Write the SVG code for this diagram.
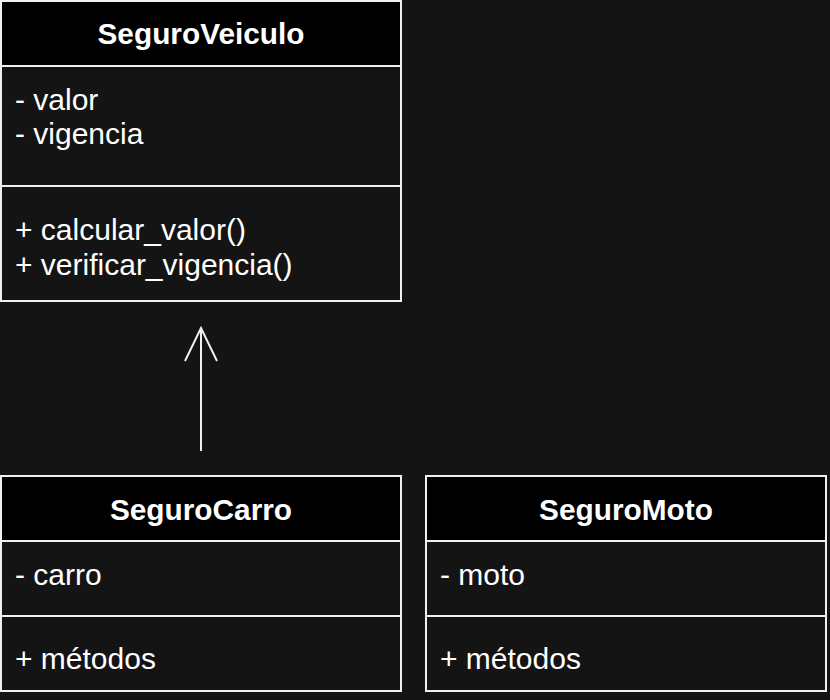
<svg xmlns="http://www.w3.org/2000/svg" width="830" height="700" viewBox="0 0 830 700">
<defs>
<style>
.box{fill:#141414;stroke:#f0f0f0;stroke-width:2}
.head{fill:#000;stroke:#f0f0f0;stroke-width:2}
.div{stroke:#f0f0f0;stroke-width:2}
.title{font-family:"Liberation Sans",Arial,sans-serif;font-size:29.8px;font-weight:bold;fill:#fff;text-anchor:middle}
.mem{font-family:"Liberation Sans",Arial,sans-serif;font-size:30px;fill:#fff}
.conn{stroke:#f0f0f0;stroke-width:2;fill:none}
</style>
</defs>
<rect width="830" height="700" fill="#141414"/>
<g id="SeguroVeiculo">
<rect class="box" x="1" y="1" width="400" height="300"/>
<rect class="head" x="1" y="1" width="400" height="65"/>
<text class="title" x="201" y="44">SeguroVeiculo</text>
<text class="mem" x="15" y="110">- valor</text>
<text class="mem" x="15" y="144">- vigencia</text>
<line class="div" x1="1" y1="186" x2="401" y2="186"/>
<text class="mem" x="15" y="240">+ calcular_valor()</text>
<text class="mem" x="15" y="275">+ verificar_vigencia()</text>
</g>
<g id="SeguroCarro">
<rect class="box" x="1" y="476" width="400" height="215"/>
<rect class="head" x="1" y="476" width="400" height="65"/>
<text class="title" x="201" y="520">SeguroCarro</text>
<text class="mem" x="15" y="585">- carro</text>
<line class="div" x1="1" y1="616" x2="401" y2="616"/>
<text class="mem" x="15" y="669">+ métodos</text>
</g>
<g id="SeguroMoto">
<rect class="box" x="426" y="476" width="400" height="215"/>
<rect class="head" x="426" y="476" width="400" height="65"/>
<text class="title" x="626" y="520">SeguroMoto</text>
<text class="mem" x="440" y="585">- moto</text>
<line class="div" x1="426" y1="616" x2="826" y2="616"/>
<text class="mem" x="440" y="669">+ métodos</text>
</g>
<g id="connectors">
<line class="conn" x1="201" y1="451" x2="201" y2="328"/>
<polyline class="conn" points="185,361 201,328 217,361"/>
</g>
</svg>
